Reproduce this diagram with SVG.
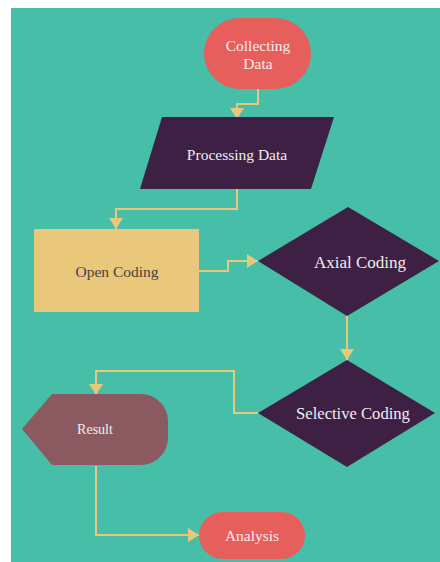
<svg xmlns="http://www.w3.org/2000/svg" width="440" height="562" viewBox="0 0 440 562">
<defs>
<marker id="arr" markerWidth="14" markerHeight="14" refX="11" refY="7" orient="auto" markerUnits="userSpaceOnUse">
<path d="M0,0 L11,7 L0,14 Z" fill="#E9C77B"/>
</marker>
<style>
text{font-family:'Liberation Serif','Times New Roman',Times,serif}
.t{font-size:15.5px;fill:#F3ECEE;text-anchor:middle;dominant-baseline:central}
.c{fill:none;stroke:#E9C77B;stroke-width:2;marker-end:url(#arr)}
</style>
</defs>
<rect x="11" y="8" width="429" height="554" fill="#46BEA8"/>
<g id="connectors">
<path class="c" d="M258,89 V104 H237 V119"/>
<path class="c" d="M237,189 V209 H116 V229"/>
<path class="c" d="M199,271 H228 V261 H258"/>
<path class="c" d="M347,316 V360"/>
<path class="c" d="M258,413 H234 V371 H96 V395"/>
<path class="c" d="M96,466 V535 H199"/>
</g>
<g font-family="Liberation Serif, serif">
<g id="collecting">
<rect x="204" y="18" width="107" height="71" rx="35.5" fill="#E65F5C"/>
<text class="t" x="258" y="45" font-family="Liberation Serif, serif">Collecting</text>
<text class="t" x="258" y="63" font-family="Liberation Serif, serif">Data</text>
</g>
<g id="processing">
<polygon points="162,117 334,117 311,189 140,189" fill="#3E2044"/>
<text class="t" x="237" y="154" font-family="Liberation Serif, serif">Processing Data</text>
</g>
<g id="open">
<rect x="34" y="229" width="165" height="83" fill="#E9C77B"/>
<text class="t" x="117" y="271" font-family="Liberation Serif, serif" style="fill:#4A4040">Open Coding</text>
</g>
<g id="axial">
<polygon points="258,261 348,207 439,261 347,316" fill="#3E2044"/>
<text class="t" x="360" y="262" font-family="Liberation Serif, serif" style="font-size:17px">Axial Coding</text>
</g>
<g id="selective">
<polygon points="347,360 435,413 347,467 258,413" fill="#3E2044"/>
<text class="t" x="353" y="413" font-family="Liberation Serif, serif" style="font-size:16.6px">Selective Coding</text>
</g>
<g id="result">
<path d="M22,429 L52,394 H141 A27,27 0 0 1 168,421 V438 A27,27 0 0 1 141,465 H52 Z" fill="#8B5A60"/>
<text class="t" x="95" y="429" font-family="Liberation Serif, serif" style="font-size:14px">Result</text>
</g>
<g id="analysis">
<rect x="199" y="512" width="106" height="47" rx="23.5" fill="#E65F5C"/>
<text class="t" x="252" y="535" font-family="Liberation Serif, serif">Analysis</text>
</g>
</g>
</svg>
